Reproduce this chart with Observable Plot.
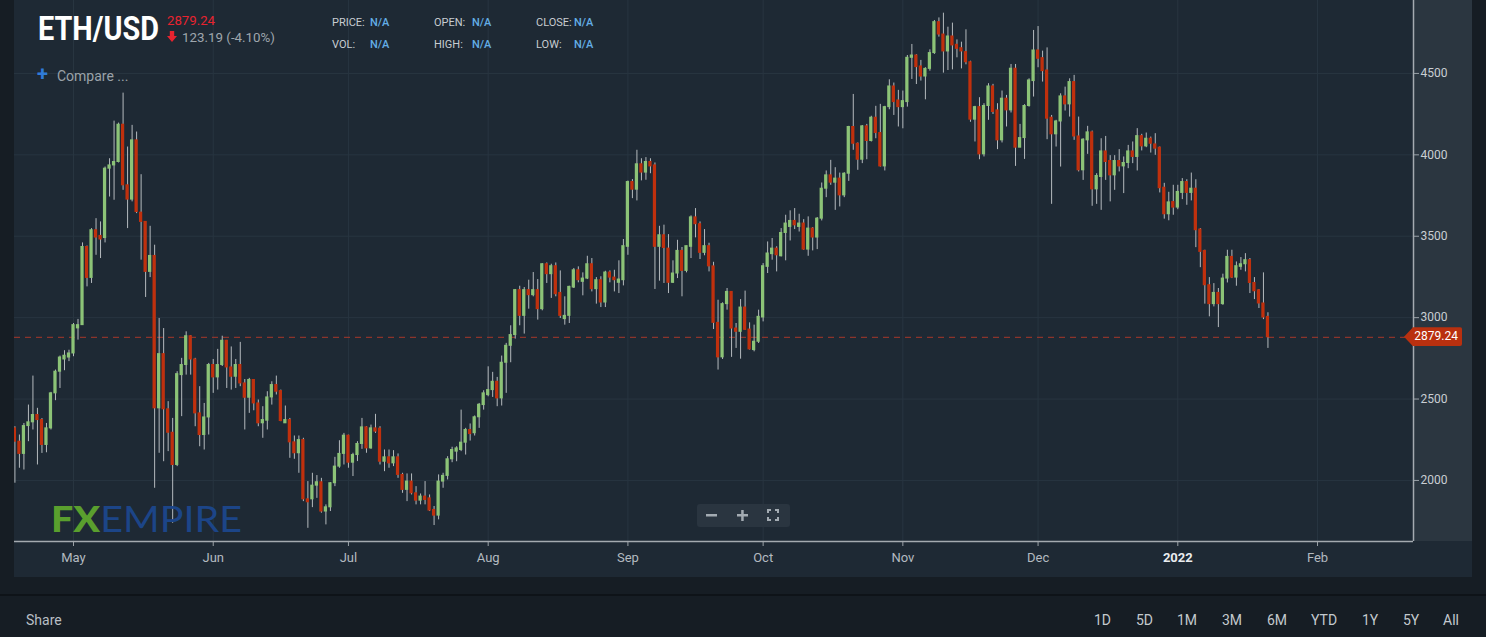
<!DOCTYPE html>
<html><head><meta charset="utf-8">
<script src="https://cdn.jsdelivr.net/npm/d3@7"></script>
<script src="https://cdn.jsdelivr.net/npm/@observablehq/plot@0.6"></script>
<style>
html,body{margin:0;padding:0;background:#161d24;width:1486px;height:637px;overflow:hidden;font-family:Roboto,"Noto Sans",sans-serif;}
#panel{position:absolute;left:14px;top:0;width:1458px;height:577px;background:#1e2934;}
#band{position:absolute;left:1413px;top:0;width:59px;height:541px;background:#2b3640;}
#chart{position:absolute;left:14px;top:0;}
#chart svg{overflow:hidden;}
#sep{position:absolute;left:0;top:594px;width:1486px;height:2px;background:#0e1318;}
#tag{position:absolute;left:1404px;width:58px;height:19px;background:#b9300f;color:#fff;font:12px Roboto,sans-serif;line-height:19px;text-align:right;padding-right:4px;box-sizing:border-box;clip-path:polygon(0 50%,9px 0,100% 0,100% 100%,9px 100%);border-radius:0 2px 2px 0;}
#over{position:absolute;left:0;top:0;pointer-events:none;}
</style></head>
<body>
<div id="panel"></div>
<div id="band"></div>
<div id="chart"></div>
<div id="sep"></div>
<div id="tag"></div>
<svg id="over" width="1486" height="637"></svg>
<script>
// ---- data (ETH/USD daily candles, 2021-04-18 .. 2022-01-21) ----
const firstDay = "2021-04-18";
const open = [
2320,2238,2163,2334,2357,2402,2371,2218,2320,2535,2668,2743,2755,
2780,2934,2954,3434,3244,3537,3502,3489,3915,3935,3956,4185,3813,3725,4089,3645,3588,3281,3379,2443,2776,2437,2293,2095,2647,2709,2886,2743,2412,2279,2387,
2709,2633,2709,2858,2694,2637,2709,2596,2508,2617,2473,2351,2367,2510,2586,2549,2351,2371,2234,2167,2248,1884,1884,1968,1989,1809,1835,1983,2085,2163,
2275,2109,2156,2224,2326,2197,2320,2318,2115,2142,2105,2142,2034,1942,1993,1921,1876,1901,1890,1819,1784,1993,2028,2130,2177,2187,2232,2310,2290,2388,2463,
2524,2555,2606,2504,2723,2827,2893,3169,3011,3169,3138,3169,3052,3328,3267,3316,3152,2991,3011,3185,3291,3220,3240,3328,3175,3230,3093,3277,3246,3214,3230,
3435,3833,3786,3942,3891,3956,3935,3435,3506,3424,3214,3271,3410,3287,3435,3616,3574,3398,3439,3315,2968,2756,3083,3158,2933,2913,3062,2927,2801,2852,
3001,3312,3390,3424,3377,3520,3557,3594,3557,3578,3418,3547,3492,3608,3792,3874,3829,3854,3751,3884,4171,4068,3970,4175,4085,4228,4134,3929,4293,4420,4334,
4293,4324,4596,4610,4543,4481,4528,4625,4815,4739,4635,4727,4676,4655,4631,4569,4216,4293,4003,4300,4420,4273,4089,4345,4273,4529,4044,4103,4300,4453,
4641,4594,4518,4228,4126,4205,4359,4310,4447,4113,3905,4089,4138,3788,3864,4021,3962,3874,3962,3929,3950,4021,3987,4115,4052,4099,4064,4044,3798,3635,3710,
3676,3766,3833,3766,3792,3541,3410,3199,3083,3152,3083,3240,3373,3246,3312,3328,3353,3213,3168,3087,3005];
const high = [
2330,2279,2350,2463,2641,2443,2380,2350,2541,2678,2764,2797,2800,
2964,2989,3459,3440,3547,3608,3588,3925,3976,4207,4195,4379,4048,4181,4140,3878,3590,3561,3445,2995,2933,2484,2381,2668,2750,2913,2890,2750,2576,2473,2719,
2743,2805,2886,2860,2820,2743,2848,2620,2627,2620,2494,2453,2545,2606,2641,2555,2457,2381,2273,2273,2259,1993,2044,2030,2013,1850,1987,2142,2244,2289,
2278,2167,2238,2381,2330,2340,2406,2330,2187,2187,2183,2163,2044,2040,2040,1962,1917,1993,1911,1840,2034,2044,2146,2204,2207,2432,2320,2347,2396,2473,2551,
2698,2664,2633,2764,2842,2950,3173,3193,3185,3230,3277,3234,3332,3336,3328,3336,3287,3128,3193,3302,3312,3275,3377,3363,3246,3251,3285,3287,3291,3349,3480,
3839,3848,4028,3976,3983,3976,3950,3561,3568,3510,3349,3475,3431,3439,3625,3670,3588,3541,3457,3340,3107,3091,3179,3160,2964,3111,3163,2968,2954,3046,
3332,3465,3486,3435,3547,3629,3656,3670,3635,3602,3619,3553,3615,3827,3901,3966,3921,3888,3890,4175,4371,4073,4180,4187,4237,4298,4310,4298,4461,4441,4396,
4392,4610,4678,4615,4580,4535,4645,4825,4841,4870,4784,4809,4706,4692,4768,4575,4298,4351,4314,4437,4433,4314,4392,4365,4555,4555,4187,4308,4467,4764,
4788,4637,4657,4242,4212,4375,4416,4467,4488,4232,4099,4175,4146,3884,4099,4113,3995,3995,4032,3987,4058,4079,4161,4126,4134,4109,4130,4048,3825,3770,3813,
3813,3854,3847,3888,3847,3547,3414,3246,3209,3179,3267,3414,3414,3342,3369,3393,3363,3246,3172,3275,3030];
const low = [
1983,2075,2064,2238,2310,2095,2166,2170,2310,2490,2565,2674,2730,
2760,2862,2954,3189,3210,3383,3363,3459,3741,3721,3950,3782,3547,3711,3639,3353,3124,3246,1952,2167,2115,2177,1737,2085,2392,2647,2647,2330,2207,2187,2279,
2535,2555,2700,2565,2555,2565,2576,2310,2412,2428,2330,2259,2310,2463,2525,2361,2351,2136,2130,2044,1870,1706,1833,1890,1799,1727,1809,1962,2075,2095,
2075,2024,2116,2191,2167,2191,2289,2095,2054,2075,2085,2013,1921,1870,1911,1850,1850,1850,1809,1723,1758,1952,2003,2109,2115,2177,2156,2242,2273,2320,2432,
2514,2510,2453,2457,2535,2723,2868,2950,2899,3052,3128,2985,3042,3210,3118,3128,2995,2954,2964,3179,3214,3134,3234,3158,3083,3062,3062,3214,3158,3148,3195,
3383,3731,3717,3840,3844,3884,3173,3224,3210,3148,3210,3240,3128,3275,3363,3490,3357,3380,3281,2927,2678,2743,3046,2756,2811,2745,2923,2801,2790,2841,
2974,3271,3353,3281,3373,3349,3471,3541,3526,3414,3377,3410,3418,3594,3737,3813,3659,3680,3737,3837,4028,3905,3946,3970,4079,4099,3925,3901,4277,4242,4171,
4160,4293,4463,4432,4453,4338,4514,4617,4723,4502,4518,4522,4596,4528,4553,4200,4079,3970,3987,4212,4248,4032,4073,4171,4257,3929,4044,3972,4293,4355,
4535,4447,4093,3696,4048,3925,4269,4232,4089,3895,3843,4003,3684,3696,3659,3843,3711,3782,3895,3762,3915,3946,3901,4024,4044,4011,3997,3766,3605,3595,3629,
3663,3725,3690,3717,3430,3307,3083,3005,3066,2939,3076,3213,3240,3193,3291,3281,3148,3111,3056,2988,2811];
const close = [
2238,2163,2334,2357,2402,2371,2218,2320,2535,2668,2755,2766,2780,
2954,2954,3434,3244,3537,3492,3480,3915,3935,3956,4185,3813,3725,4089,3649,3588,3281,3379,2443,2776,2437,2293,2095,2653,2709,2886,2743,2412,2279,2387,2709,
2633,2709,2858,2694,2637,2709,2596,2508,2617,2473,2351,2371,2510,2586,2545,2365,2371,2234,2167,2248,1884,1866,1968,1989,1809,1835,1983,2085,2163,2275,
2109,2156,2224,2326,2197,2320,2300,2115,2142,2105,2142,2034,1942,1993,1921,1876,1901,1880,1815,1784,1993,2028,2130,2187,2197,2232,2310,2285,2388,2465,2535,
2555,2606,2504,2723,2827,2893,3169,3011,3169,3138,3169,3052,3328,3267,3316,3144,3011,3011,3189,3291,3230,3240,3328,3175,3230,3093,3277,3246,3230,3234,3439,
3833,3786,3942,3891,3956,3929,3435,3506,3428,3214,3271,3410,3287,3439,3616,3574,3398,3439,3315,2968,2756,3083,3158,2933,2913,3062,2925,2805,2852,3005,
3316,3394,3424,3383,3520,3578,3594,3567,3578,3418,3547,3492,3608,3792,3874,3829,3854,3751,3884,4171,4068,3970,4175,4085,4228,4134,3929,4293,4420,4324,4293,
4330,4596,4610,4539,4481,4528,4625,4815,4739,4635,4727,4672,4651,4635,4569,4216,4293,4003,4300,4420,4263,4089,4345,4273,4529,4044,4103,4300,4457,4641,
4590,4514,4222,4126,4205,4359,4310,4447,4113,3905,4093,4138,3788,3870,4021,3956,3874,3962,3929,3950,4021,3987,4115,4052,4099,4068,4038,3795,3635,3708,3676,
3772,3833,3766,3792,3537,3404,3199,3083,3152,3083,3240,3373,3246,3316,3328,3353,3213,3162,3087,3001,2879.24];
const lastPrice = 2879.24;
const change = "123.19 (-4.10%)";
const yTicks = [2000, 2500, 3000, 3500, 4000, 4500];
const monthTicks = ["2021-05-01","2021-06-01","2021-07-01","2021-08-01","2021-09-01","2021-10-01","2021-11-01","2021-12-01","2022-02-01"];
const yearTicks = ["2022-01-01"];
const yearLabels = ["2022"];
const rangeButtons = ["1D","5D","1M","3M","6M","YTD","1Y","5Y","All"];

// ---- build table ----
const day0 = new Date(firstDay);
const data = open.map((o, i) => ({
  date: d3.utcDay.offset(day0, i), open: o, high: high[i], low: low[i], close: close[i]
}));
const half = 0.36 * 864e5;
const up = data.filter(d => d.close >= d.open);
const down = data.filter(d => d.close < d.open);
const GREEN = "#8cc377", RED = "#c0300d";

const chart = Plot.plot({
  width: 1458, height: 577,
  marginLeft: 0, marginRight: 59, marginTop: 0, marginBottom: 36,
  style: {background: "transparent", fontFamily: "Roboto, sans-serif", fontSize: "12px"},
  x: {type: "utc", domain: [new Date(Date.UTC(2021,3,17,21,50)), new Date(Date.UTC(2022,1,22,7))]},
  y: {domain: [1625, 4948]},
  marks: [
    Plot.ruleY(yTicks, {stroke: "#283540"}),
    Plot.ruleX(monthTicks.concat(yearTicks).map(d => new Date(d)), {stroke: "#283540"}),
    Plot.ruleY([lastPrice], {stroke: "#a8382a", strokeDasharray: "6,5"}),
    Plot.ruleX(data, {x: "date", y1: "low", y2: "high", stroke: "#b5babe", strokeWidth: 1, clip: true}),
    Plot.rect(up, {x1: d => new Date(+d.date - half), x2: d => new Date(+d.date + half), y1: "open", y2: "close", fill: GREEN, insetTop: -0.5, insetBottom: -0.5, clip: true}),
    Plot.rect(down, {x1: d => new Date(+d.date - half), x2: d => new Date(+d.date + half), y1: "open", y2: "close", fill: RED, insetTop: -0.5, insetBottom: -0.5, clip: true}),
    Plot.axisY(yTicks, {anchor: "right", tickSize: 5, tickPadding: 2, tickFormat: d => String(d), stroke: "#9aa1a7", fill: "#c9ced3", fontSize: 12}),
    Plot.axisX(monthTicks.map(d => new Date(d)), {tickSize: 5, tickPadding: 6, tickFormat: d3.utcFormat("%b"), stroke: "#9aa1a7", fill: "#b3bac0", fontSize: 13}),
    Plot.axisX(yearTicks.map(d => new Date(d)), {tickSize: 5, tickPadding: 6, tickFormat: (d, i) => yearLabels[i], stroke: "#9aa1a7", fill: "#e9ecef", fontSize: 13, fontWeight: "bold"}),
    Plot.ruleY([1625], {stroke: "#a4aab0", strokeWidth: 1.5}),
    Plot.ruleX([new Date(Date.UTC(2022,1,22,7))], {stroke: "#a4aab0", strokeWidth: 1.5})
  ]
});
document.getElementById("chart").appendChild(chart);

// price tag on the right axis
const yPix = chart.scale("y").apply(lastPrice);
const tag = document.getElementById("tag");
tag.textContent = lastPrice.toFixed(2);
tag.style.top = (yPix - 9.5) + "px";

// ---- header / decorations ----
const over = d3.select("#over");
function txt(x, y, s, opts = {}) {
  const t = over.append("text").attr("x", x).attr("y", y).text(s)
    .attr("font-family", opts.family || "Roboto, sans-serif")
    .attr("font-size", opts.size || 12)
    .attr("fill", opts.fill || "#c5cad0")
    .attr("font-weight", opts.weight || 400);
  if (opts.len) t.attr("textLength", opts.len).attr("lengthAdjust", "spacingAndGlyphs");
  if (opts.anchor) t.attr("text-anchor", opts.anchor);
  return t;
}
// title: condensed by a horizontal scale
const title = txt(0, 0, "ETH/USD", {size: 34, weight: 700, fill: "#ffffff"});
const tw = title.node().getComputedTextLength();
title.attr("transform", `translate(38,40) scale(${121 / tw},1)`);
txt(167, 25, lastPrice.toFixed(2), {size: 13, fill: "#e8232f", len: 48});
// red down arrow (drawn shape)
over.append("path").attr("d", "M169.8,31H174.2V36H177L172,42L167,36H169.8Z").attr("fill", "#e8232f");
txt(182, 41.5, change, {size: 13.5, fill: "#9ea6ad", len: 93});
const labels = [["PRICE:", 332, 26], ["OPEN:", 434, 26], ["CLOSE:", 536, 26], ["VOL:", 332, 48], ["HIGH:", 434, 48], ["LOW:", 536, 48]];
labels.forEach(([l, x, y]) => {
  txt(x, y, l, {size: 11, fill: "#c7ccd1"});
  txt(x + 38, y, "N/A", {size: 11, fill: "#63aee6", weight: 500});
});
txt(37, 81, "+", {size: 20, fill: "#2f7bd8", weight: 700});
txt(57, 81, "Compare ...", {size: 14, fill: "#9aa2a9"});

// logo
const logo = over.append("text").attr("x", 51).attr("y", 532).attr("font-family", "Lato, Roboto, sans-serif").attr("font-size", 36);
logo.append("tspan").attr("fill", "#5a9f2e").attr("font-weight", 900).text("FX");
logo.append("tspan").attr("fill", "#1c4588").attr("font-weight", 400).text("EMPIRE");
logo.attr("textLength", 191).attr("lengthAdjust", "spacingAndGlyphs");

// zoom controls
over.append("rect").attr("x", 697).attr("y", 504).attr("width", 93).attr("height", 23).attr("rx", 3).attr("fill", "#2a3540");
over.append("rect").attr("x", 706).attr("y", 514).attr("width", 11).attr("height", 2.5).attr("fill", "#a3abb2");
over.append("rect").attr("x", 737).attr("y", 514).attr("width", 11).attr("height", 2.5).attr("fill", "#a3abb2");
over.append("rect").attr("x", 741.2).attr("y", 510).attr("width", 2.5).attr("height", 11).attr("fill", "#a3abb2");
over.append("path").attr("d", "M768,513v-3h3 M775,510h3v3 M778,517v3h-3 M771,520h-3v-3").attr("stroke", "#a3abb2").attr("stroke-width", 2).attr("fill", "none");

// footer
txt(26, 625, "Share", {size: 14, fill: "#b9bfc5"});
const btnX = [1094, 1136, 1177, 1222, 1267, 1311, 1362, 1403, 1443];
rangeButtons.forEach((b, i) => txt(btnX[i], 625, b, {size: 14, fill: "#c3c9ce"}));
</script>
</body></html>
